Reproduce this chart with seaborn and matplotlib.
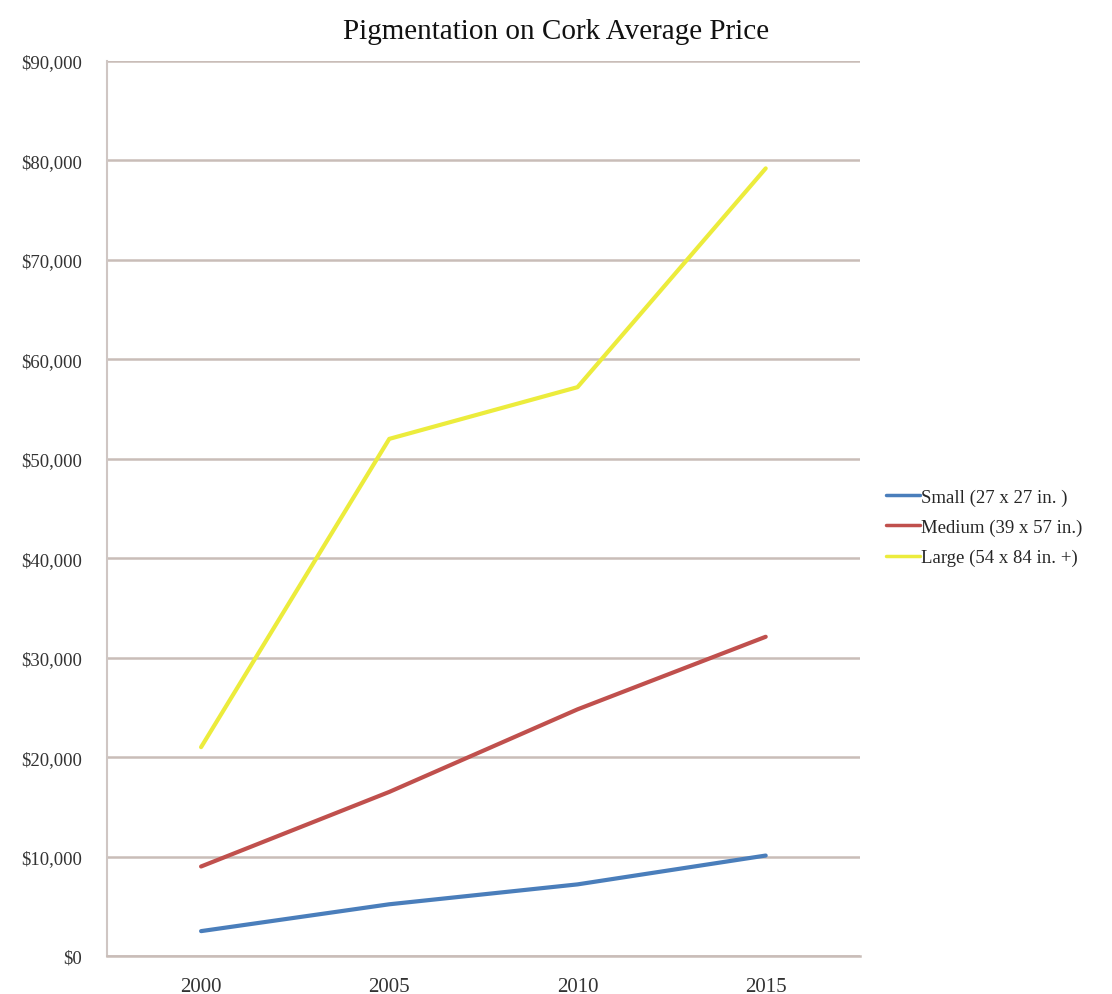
import matplotlib
matplotlib.use("Agg")
import matplotlib.pyplot as plt
import seaborn as sns
import pandas as pd
from matplotlib.ticker import FuncFormatter

years = ["2000", "2005", "2010", "2015"]
small = [2500, 5200, 7200, 10100]
medium = [9000, 16500, 24800, 32100]
large = [21000, 52000, 57200, 79200]
series_names = ["Small (27 x 27 in. )", "Medium (39 x 57 in.)", "Large (54 x 84 in. +)"]
colors = ["#4a7ebb", "#c0504d", "#ecec3c"]

rows = []
for name, vals in zip(series_names, [small, medium, large]):
    for y, v in zip(years, vals):
        rows.append({"Year": y, "Price": v, "Size": name})
df = pd.DataFrame(rows)

sns.set_style("white")
plt.rcParams["font.family"] = ["Liberation Serif", "DejaVu Serif"]

fig = plt.figure(figsize=(11.12, 9.95), dpi=100)
ax = fig.add_axes([0.0962, 0.0382, 0.677, 0.8995])

sns.lineplot(data=df, x="Year", y="Price", hue="Size", palette=colors,
             linewidth=3, ax=ax, sort=False)

ax.set_xlim(-0.5, 3.5)
ax.set_ylim(0, 90000)
ax.set_yticks(range(0, 90001, 10000))
ax.yaxis.set_major_formatter(FuncFormatter(lambda v, p: f"${int(v):,}"))
ax.grid(axis="y", color="#c9bdb8", linewidth=1.8)
ax.set_axisbelow(True)
for s in ["top", "right"]:
    ax.spines[s].set_visible(False)
ax.spines["left"].set_color("#cfc6c3")
ax.spines["left"].set_linewidth(1.5)
ax.spines["bottom"].set_color("#c9bdb8")
ax.spines["bottom"].set_linewidth(1.8)
ax.set_xlabel("")
ax.set_ylabel("")
ax.tick_params(axis="y", labelsize=13.5, colors="#333333", length=0, pad=18)
ax.tick_params(axis="x", labelsize=15, colors="#333333", length=0, pad=15)

fig.text(0.5, 0.968, "Pigmentation on Cork Average Price", ha="center", va="center",
         fontsize=21, color="#111111")

leg = ax.legend(loc="center left", bbox_to_anchor=(1.013, 0.479), frameon=False,
                fontsize=13.5, handlelength=1.8, handletextpad=0.05, labelspacing=0.7)
for line in leg.get_lines():
    line.set_linewidth(2.5)

fig.savefig("out.png", dpi=100, facecolor="white")
